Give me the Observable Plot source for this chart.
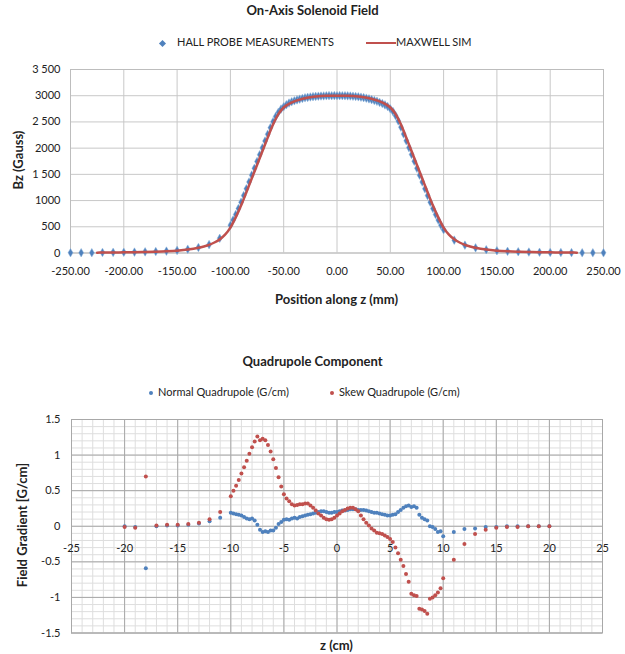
<!DOCTYPE html>
<html><head><meta charset="utf-8">
<script src="https://cdn.jsdelivr.net/npm/d3@7"></script>
<script src="https://cdn.jsdelivr.net/npm/@observablehq/plot@0.6"></script>
<style>
body{margin:0;background:#fff;font-family:Lato,"Open Sans",sans-serif;color:#222;}
#wrap{position:relative;width:625px;height:654px;overflow:hidden;background:#fff;}
.abs{position:absolute;white-space:nowrap;}
.title{left:0;width:625px;text-align:center;font-weight:bold;font-size:13px;line-height:16px;}
.leg{font-size:11px;line-height:14px;}
.axl{font-weight:bold;font-size:13px;line-height:16px;}
.chart{position:absolute;left:0;}
</style></head>
<body><div id="wrap">
<div class="abs title" style="top:2px">On-Axis Solenoid Field</div>
<div class="abs leg" style="top:35px;left:160px"><span style="display:inline-block;width:5px;height:5px;background:#4F81BD;transform:rotate(45deg);margin-right:12px;vertical-align:middle"></span>HALL PROBE MEASUREMENTS</div>
<div class="abs leg" style="top:35px;left:366px"><span style="display:inline-block;width:30px;height:2.5px;background:#C0504D;vertical-align:middle"></span>MAXWELL SIM</div>
<div id="c1" class="chart" style="top:55px"></div>
<div class="abs axl" style="top:291px;left:0;width:625px;text-align:center;padding-left:48px;box-sizing:border-box">Position along z (mm)</div>
<div class="abs axl" style="left:18px;top:160px;transform:translate(-50%,-50%) rotate(-90deg)">Bz (Gauss)</div>

<div class="abs title" style="top:353px">Quadrupole Component</div>
<div class="abs leg" style="top:385px;left:149px"><span style="display:inline-block;width:4px;height:4px;background:#4F81BD;border-radius:50%;margin-right:5px;vertical-align:middle"></span>Normal Quadrupole (G/cm)</div>
<div class="abs leg" style="top:385px;left:330px"><span style="display:inline-block;width:4px;height:4px;background:#C0504D;border-radius:50%;margin-right:5px;vertical-align:middle"></span>Skew Quadrupole (G/cm)</div>
<div id="c2" class="chart" style="top:405px"></div>
<div class="abs axl" style="top:637px;left:0;width:625px;text-align:center;padding-left:48px;box-sizing:border-box">z (cm)</div>
<div class="abs axl" style="left:22px;top:525px;transform:translate(-50%,-50%) rotate(-90deg)">Field Gradient [G/cm]</div>
</div>
<script>
// ---------- Top chart data ----------
const topXTicks = [-250,-200,-150,-100,-50,0,50,100,150,200,250];
const topYTicks = [0,500,1000,1500,2000,2500,3000,3500];
const topYLabels = ["0","500","1000","1 500","2000","2 500","3000","3 500"];

const hallZ = [-250,-240,-230,-220,-210,-200,-190,-180,-170,-160,-150,-140,-130,-120,-110,
 -100,-97.5,-95,-92.5,-90,-87.5,-85,-82.5,-80,-77.5,-75,-72.5,-70,-67.5,-65,-62.5,-60,-57.5,-55,-52.5,
 -50,-47.5,-45,-42.5,-40,-37.5,-35,-32.5,-30,-27.5,-25,-22.5,-20,-17.5,-15,-12.5,-10,-7.5,-5,-2.5,
 0,2.5,5,7.5,10,12.5,15,17.5,20,22.5,25,27.5,30,32.5,35,37.5,40,42.5,45,47.5,
 50,52.5,55,57.5,60,62.5,65,67.5,70,72.5,75,77.5,80,82.5,85,87.5,90,92.5,95,97.5,100,
 110,120,130,140,150,160,170,180,190,200,210,220,230,240,250];
const hallB = [5,5,5,10,12,14,17,22,28,36,50,72,105,160,280,
 530,628,735,848,968,1095,1225,1355,1485,1615,1745,1875,2005,2135,2265,2390,2505,2605,2685,2745,
 2790,2828,2860,2884,2903,2920,2935,2948,2960,2968,2976,2982,2987,2991,2994,2996,2999,3001,3000,3002,
 3000,3001,3000,2999,2997,2994,2990,2985,2979,2972,2963,2953,2940,2925,2910,2893,2872,2850,2825,2795,
 2750,2700,2620,2520,2400,2270,2140,2010,1880,1750,1615,1485,1355,1225,1095,968,848,735,628,530,445,
 245,150,98,63,44,32,24,18,14,11,9,7,4,4,4];

const simZ = [-225,-220,-210,-200,-190,-180,-170,-160,-150,-140,-130,-125,-120,-115,-110,-105,-100,
 -95,-90,-85,-80,-75,-70,-65,-60,-55,-50,-45,-40,-35,-30,-25,-20,-15,-10,-5,0,
 5,10,15,20,25,30,35,40,45,50,55,60,65,70,75,80,85,90,95,100,105,110,115,120,125,130,
 140,150,160,170,180,190,200,210,220,225];
const simB = [7,8,10,12,15,19,25,33,45,65,100,125,155,200,260,350,485,
 680,905,1160,1420,1680,1940,2200,2450,2650,2775,2845,2892,2925,2952,2970,2984,2993,2998,3000,3000,
 3000,2998,2993,2984,2970,2952,2925,2892,2845,2775,2650,2450,2200,1940,1680,1420,1160,905,680,485,350,260,200,155,125,100,
 65,45,33,25,19,15,12,10,8,7];

// ---------- Bottom chart data ----------
const botXTicks = [-25,-20,-15,-10,-5,0,5,10,15,20,25];
const botYTicks = [-1.5,-1,-0.5,0,0.5,1,1.5];
const botYLabels = ["-1.5","-1","-0.5","0","0.5","1","1.5"];

const sparseZ = [-20,-19,-18,-17,-16,-15,-14,-13,-12,-11,11,12,13,14,15,16,17,18,19,20];
const normalSparse = [0,-0.01,-0.59,0,0.01,0.01,0.02,0.04,0.07,0.12,-0.08,-0.04,-0.03,-0.01,-0.01,0,0,0,0,0];
const skewSparse = [-0.01,-0.02,0.70,0.01,0.02,0.02,0.03,0.05,0.10,0.20,-0.47,-0.25,-0.11,-0.05,-0.02,-0.01,-0.01,0,0,0];

const denseZ = [-10,-9.75,-9.5,-9.25,-9,-8.75,-8.5,-8.25,-8,-7.75,-7.5,-7.25,-7,-6.75,-6.5,-6.25,-6,-5.75,-5.5,-5.25,
 -5,-4.75,-4.5,-4.25,-4,-3.75,-3.5,-3.25,-3,-2.75,-2.5,-2.25,-2,-1.75,-1.5,-1.25,-1,-0.75,-0.5,-0.25,
 0,0.25,0.5,0.75,1,1.25,1.5,1.75,2,2.25,2.5,2.75,3,3.25,3.5,3.75,4,4.25,4.5,4.75,
 5,5.25,5.5,5.75,6,6.25,6.5,6.75,7,7.25,7.5,7.75,8,8.25,8.5,8.75,9,9.25,9.5,9.75,10];
const normalDense = [0.19,0.18,0.17,0.16,0.15,0.13,0.11,0.10,0.11,0.08,0.02,-0.05,-0.08,-0.07,-0.08,-0.06,-0.06,-0.02,0.03,0.06,
 0.09,0.10,0.09,0.11,0.12,0.11,0.13,0.14,0.15,0.16,0.17,0.18,0.19,0.20,0.21,0.21,0.20,0.19,0.19,0.20,
 0.20,0.21,0.22,0.22,0.23,0.24,0.24,0.24,0.23,0.23,0.23,0.22,0.21,0.20,0.19,0.19,0.18,0.17,0.16,0.15,
 0.15,0.16,0.17,0.20,0.23,0.26,0.28,0.29,0.27,0.28,0.26,0.16,0.12,0.10,0.08,0.0,-0.01,-0.04,-0.08,-0.07,-0.14];
const skewDense = [0.42,0.50,0.57,0.65,0.74,0.83,0.92,1.02,1.11,1.19,1.26,1.21,1.23,1.21,1.14,1.05,0.94,0.82,0.69,0.56,
 0.45,0.39,0.35,0.31,0.29,0.30,0.31,0.31,0.32,0.32,0.29,0.26,0.22,0.18,0.15,0.12,0.10,0.09,0.10,0.12,
 0.15,0.18,0.21,0.23,0.25,0.26,0.26,0.24,0.21,0.15,0.10,0.05,0.01,-0.03,-0.06,-0.09,-0.10,-0.11,-0.13,-0.15,
 -0.18,-0.22,-0.30,-0.38,-0.47,-0.56,-0.67,-0.78,-0.95,-0.97,-0.98,-1.16,-1.17,-1.19,-1.23,-1.02,-1.00,-0.97,-0.93,-0.87,-0.73];

const BLUE = "#4F81BD", RED = "#C0504D";
const FONT = "Lato, 'Open Sans', sans-serif";

const hall = hallZ.map((z,i)=>({z, b: hallB[i]}));
const sim = simZ.map((z,i)=>({z, b: simB[i]}));

const p1 = Plot.plot({
  width: 625, height: 255,
  marginLeft: 70, marginRight: 22, marginTop: 14, marginBottom: 57.5,
  style: {fontFamily: FONT, fontSize: "11px", color: "#222", background: "white"},
  x: {domain: [-250, 250]},
  y: {domain: [0, 3500]},
  marks: [
    Plot.gridX(topXTicks, {stroke: "#c8c8c8", strokeOpacity: 1}),
    Plot.gridY(topYTicks, {stroke: "#c8c8c8", strokeOpacity: 1}),
    Plot.frame({stroke: "#bdbdbd"}),
    Plot.dot(hall, {x: "z", y: "b", symbol: "diamond", r: 2.6, fill: BLUE, stroke: "#8fb4dd", strokeWidth: 0.5}),
    Plot.line(sim, {x: "z", y: "b", stroke: RED, strokeWidth: 2.5, curve: "monotone-x"}),
    Plot.axisX({ticks: topXTicks, tickSize: 0, tickPadding: 14, tickFormat: d => d.toFixed(2), label: null}),
    Plot.axisY({ticks: topYTicks, tickSize: 0, tickPadding: 10, tickFormat: d => topYLabels[topYTicks.indexOf(d)], label: null})
  ]
});
document.getElementById("c1").appendChild(p1);

const normal = [...sparseZ.map((z,i)=>({z, g: normalSparse[i]})), ...denseZ.map((z,i)=>({z, g: normalDense[i]}))];
const skew = [...sparseZ.map((z,i)=>({z, g: skewSparse[i]})), ...denseZ.map((z,i)=>({z, g: skewDense[i]}))];

const minorX = d3.range(-25, 26, 1);
const minorY = d3.range(-15, 16).map(d => d / 10);

const p2 = Plot.plot({
  width: 625, height: 249,
  marginLeft: 71, marginRight: 23, marginTop: 14, marginBottom: 21.5,
  style: {fontFamily: FONT, fontSize: "11px", color: "#222", background: "white"},
  x: {domain: [-25, 25], axis: null},
  y: {domain: [-1.5, 1.5], axis: null},
  marks: [
    Plot.gridX(minorX, {stroke: "#dedede", strokeOpacity: 1}),
    Plot.gridY(minorY, {stroke: "#dedede", strokeOpacity: 1}),
    Plot.gridX(botXTicks, {stroke: "#a8a8a8", strokeOpacity: 1}),
    Plot.gridY(botYTicks, {stroke: "#a8a8a8", strokeOpacity: 1}),
    Plot.frame({stroke: "#a8a8a8"}),
    Plot.dot(normal, {x: "z", y: "g", r: 2, fill: BLUE}),
    Plot.dot(skew, {x: "z", y: "g", r: 2, fill: RED}),
    Plot.text(botXTicks, {x: d => d, y: () => 0, dy: 22, text: d => String(d), fill: "#222", fontSize: 11}),
    Plot.text(botYTicks, {x: () => -25, y: d => d, dx: -11, textAnchor: "end", text: d => botYLabels[botYTicks.indexOf(d)], fill: "#222", fontSize: 11})
  ]
});
document.getElementById("c2").appendChild(p2);
</script>
</body></html>
